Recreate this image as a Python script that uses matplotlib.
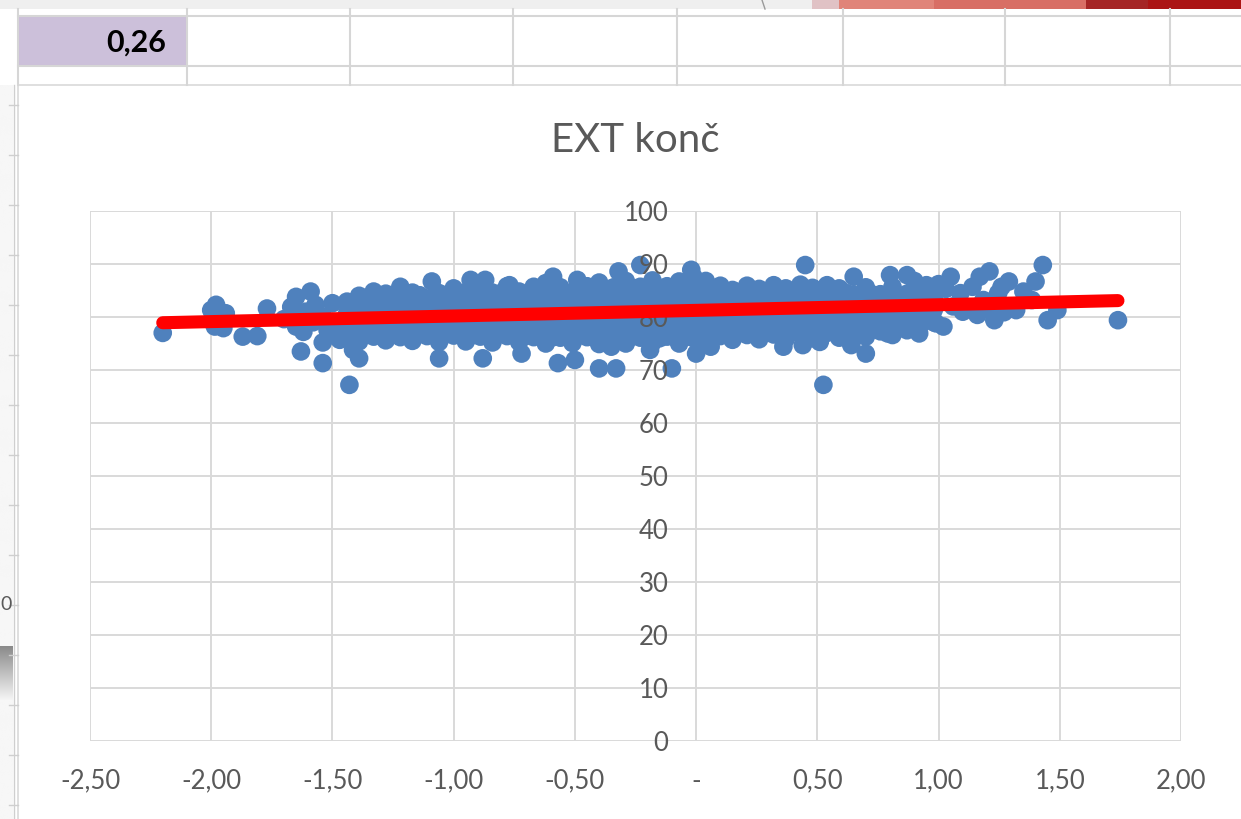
import matplotlib
matplotlib.use("Agg")
import matplotlib.pyplot as plt
from matplotlib.patches import Rectangle
from matplotlib.lines import Line2D
import numpy as np

plt.rcParams['font.family'] = ['Lato', 'DejaVu Sans']

# ---- data -------------------------------------------------------------
chart_title = "EXT konč"
cell_value = "0,26"

# x = standardized score, y = EXT konč (one line per vertical strip of points)
ext_x = [
    -1.44, -1.44, -1.44, -1.44,
    -1.39, -1.39, -1.39, -1.39, -1.39,
    -1.33, -1.33, -1.33, -1.33,
    -1.28, -1.28, -1.28, -1.28, -1.28,
    -1.22, -1.22, -1.22, -1.22,
    -1.17, -1.17, -1.17, -1.17, -1.17,
    -1.11, -1.11, -1.11, -1.11,
    -1.06, -1.06, -1.06, -1.06, -1.06,
    -1.00, -1.00, -1.00, -1.00, -1.00,
    -0.95, -0.95, -0.95, -0.95, -0.95,
    -0.89, -0.89, -0.89, -0.89, -0.89,
    -0.84, -0.84, -0.84, -0.84, -0.84,
    -0.78, -0.78, -0.78, -0.78, -0.78,
    -0.73, -0.73, -0.73, -0.73, -0.73,
    -0.67, -0.67, -0.67, -0.67, -0.67,
    -0.62, -0.62, -0.62, -0.62, -0.62, -0.62,
    -0.56, -0.56, -0.56, -0.56, -0.56,
    -0.51, -0.51, -0.51, -0.51, -0.51,
    -0.45, -0.45, -0.45, -0.45, -0.45,
    -0.40, -0.40, -0.40, -0.40, -0.40, -0.40,
    -0.34, -0.34, -0.34, -0.34, -0.34,
    -0.29, -0.29, -0.29, -0.29, -0.29, -0.29,
    -0.23, -0.23, -0.23, -0.23, -0.23,
    -0.18, -0.18, -0.18, -0.18, -0.18, -0.18,
    -0.12, -0.12, -0.12, -0.12, -0.12,
    -0.07, -0.07, -0.07, -0.07, -0.07, -0.07,
    -0.01, -0.01, -0.01, -0.01, -0.01, -0.01,
    0.04, 0.04, 0.04, 0.04, 0.04, 0.04,
    0.10, 0.10, 0.10, 0.10, 0.10,
    0.15, 0.15, 0.15, 0.15, 0.15,
    0.21, 0.21, 0.21, 0.21, 0.21,
    0.26, 0.26, 0.26, 0.26, 0.26,
    0.32, 0.32, 0.32, 0.32, 0.32,
    0.37, 0.37, 0.37, 0.37, 0.37,
    0.43, 0.43, 0.43, 0.43, 0.43,
    0.48, 0.48, 0.48, 0.48, 0.48,
    0.54, 0.54, 0.54, 0.54, 0.54,
    0.59, 0.59, 0.59, 0.59, 0.59,
    0.65, 0.65, 0.65, 0.65,
    0.70, 0.70, 0.70, 0.70, 0.70,
    0.76, 0.76, 0.76, 0.76,
    0.81, 0.81, 0.81, 0.81, 0.81,
    0.87, 0.87, 0.87, 0.87,
    0.92, 0.92, 0.92, 0.92,
    0.98, 0.98, 0.98,
    # in-between strips of the dense band
    -1.36, -1.36, -1.25, -1.25, -1.14, -1.14, -1.03, -1.03,
    -0.92, -0.92, -0.81, -0.81, -0.70, -0.70, -0.59, -0.59,
    -0.48, -0.48, -0.37, -0.37, -0.26, -0.26, -0.15, -0.15,
    -0.04, -0.04, 0.07, 0.07, 0.18, 0.18, 0.29, 0.29,
    0.40, 0.40, 0.51, 0.51, 0.62, 0.62, 0.73, 0.73, 0.84, 0.84,
    # left tail
    -2.20, -1.98, -2.00, -1.94, -1.985, -1.95, -1.87, -1.81, -1.77, -1.70,
    -1.67, -1.65, -1.59, -1.61, -1.65, -1.62, -1.63, -1.57, -1.54, -1.54,
    -1.54, -1.50, -1.50, -1.47, -1.58, -1.52,
    # lower and upper fringe of the main band
    -1.43, -1.39, -1.415, -1.386, -1.33, -1.22, -1.09, -1.06, -0.93, -0.87,
    -0.88, -0.77, -0.72, -0.59, -0.49, -0.32, -0.23, -0.02, -0.57, -0.50,
    -0.40, -0.33, -0.10, -0.19, 0.00, 0.06, -0.35,
    0.45, 0.525, 0.51, 0.36, 0.70, 0.65, 0.80, 0.87, 0.79, 0.92,
    0.44, 0.64, 0.99, 0.95, 0.90,
    # right tail
    1.43, 1.40, 1.45, 1.49, 1.74, 1.21, 1.17, 1.05, 1.29, 1.23,
    1.16, 1.02, 1.35, 1.14, 1.26, 1.09, 1.32, 1.385, 1.03, 1.06,
    1.00, 1.10, 1.185, 1.213, 1.246, 1.27,
]
ext_y = [
    76.0, 78.3, 80.6, 82.9,
    75.4, 77.5, 79.8, 82.0, 84.0,
    76.3, 78.6, 80.9, 83.2,
    75.6, 77.8, 80.1, 82.3, 84.4,
    76.2, 78.7, 81.0, 83.3,
    75.5, 77.7, 80.0, 82.4, 84.6,
    76.4, 78.8, 81.1, 83.5,
    75.3, 77.6, 79.9, 82.2, 84.5,
    76.5, 78.8, 81.2, 83.6, 85.4,
    75.4, 77.7, 80.0, 82.3, 84.7,
    76.3, 78.6, 81.0, 83.4, 85.6,
    75.2, 77.5, 79.9, 82.2, 84.6,
    76.4, 78.7, 81.1, 83.5, 85.8,
    75.3, 77.6, 80.0, 82.4, 84.8,
    76.2, 78.5, 80.9, 83.3, 85.7,
    75.0, 77.4, 79.8, 82.2, 84.6, 86.4,
    76.1, 78.5, 80.9, 83.3, 85.6,
    75.1, 77.5, 79.9, 82.3, 84.7,
    76.2, 78.6, 81.0, 83.4, 85.8,
    74.9, 77.3, 79.7, 82.1, 84.5, 86.5,
    76.0, 78.4, 80.8, 83.2, 85.6,
    75.0, 77.4, 79.8, 82.2, 84.6, 86.8,
    76.1, 78.5, 80.9, 83.3, 85.7,
    75.2, 77.6, 80.0, 82.4, 84.8, 86.9,
    76.3, 78.7, 81.1, 83.5, 85.8,
    75.0, 77.4, 79.8, 82.2, 84.6, 86.7,
    76.0, 78.4, 80.8, 83.2, 85.6, 87.5,
    75.3, 77.7, 80.1, 82.5, 84.9, 86.8,
    76.4, 78.8, 81.2, 83.6, 85.9,
    75.7, 78.0, 80.4, 82.8, 85.1,
    76.6, 79.0, 81.4, 83.8, 85.9,
    75.8, 78.1, 80.5, 82.9, 85.3,
    76.7, 79.1, 81.5, 83.9, 86.0,
    75.9, 78.2, 80.6, 83.0, 85.4,
    76.8, 79.2, 81.6, 84.0, 86.1,
    76.0, 78.3, 80.7, 83.1, 85.5,
    77.0, 79.3, 81.7, 84.1, 86.0,
    76.1, 78.4, 80.8, 83.2, 85.4,
    77.1, 79.4, 81.8, 84.2,
    76.3, 78.6, 80.9, 83.3, 85.6,
    77.3, 79.6, 81.9, 84.3,
    76.6, 78.9, 81.2, 83.5, 85.7,
    77.5, 79.8, 82.1, 84.4,
    78.1, 80.4, 82.7, 85.0,
    79.0, 81.3, 83.6,
    # in-between strips of the dense band
    77.0, 82.6, 76.9, 83.8, 77.1, 84.1, 76.8, 84.0,
    76.6, 84.2, 77.0, 84.4, 76.5, 84.3, 76.2, 84.9,
    76.6, 85.0, 76.1, 84.8, 76.4, 85.2, 76.0, 85.1,
    76.3, 85.4, 76.9, 85.0, 77.1, 84.6, 77.2, 84.7,
    77.4, 84.8, 77.6, 84.9, 77.8, 84.5, 78.0, 84.2, 78.4, 83.9,
    # left tail
    77.0, 82.3, 81.3, 80.7, 78.2, 77.9, 76.3, 76.4, 81.6, 79.6,
    81.9, 83.8, 84.8, 81.0, 78.2, 77.2, 73.5, 82.3, 80.1, 75.2,
    71.3, 82.6, 78.2, 75.7, 79.0, 77.5,
    # lower and upper fringe of the main band
    67.2, 72.2, 73.8, 82.6, 84.8, 85.7, 86.7, 72.2, 87.0, 87.0,
    72.2, 86.0, 73.1, 87.6, 87.0, 88.6, 89.8, 88.9, 71.3, 71.9,
    70.3, 70.3, 70.3, 73.8, 73.1, 74.4, 74.4,
    89.8, 67.2, 75.3, 74.4, 73.1, 87.6, 87.9, 87.9, 76.9, 76.9,
    74.7, 74.7, 78.8, 86.0, 86.8,
    # right tail
    89.8, 86.7, 79.4, 81.3, 79.4, 88.6, 87.6, 87.6, 86.7, 79.4,
    80.4, 78.2, 84.8, 85.7, 85.7, 84.5, 81.3, 83.2, 85.3, 82.0,
    86.2, 81.0, 83.2, 81.7, 84.5, 80.9,
]

# linear trend of EXT konč on the score
trend_intercept = 81.25
trend_slope = 1.06

x_ticks = [-2.5, -2.0, -1.5, -1.0, -0.5, 0.0, 0.5, 1.0, 1.5, 2.0]
x_tick_labels = ["-2,50", "-2,00", "-1,50", "-1,00", "-0,50", "-",
                 "0,50", "1,00", "1,50", "2,00"]
y_ticks = [0, 10, 20, 30, 40, 50, 60, 70, 80, 90, 100]
y_tick_labels = [str(v) for v in y_ticks]

# ---- figure and worksheet surroundings --------------------------------
W, H = 1241, 819
fig = plt.figure(figsize=(W / 100, H / 100), dpi=100)
fig.patch.set_facecolor("white")


def fx(px):
    return px / W


def fy(py):
    return 1 - py / H


def frect(x0, y0, x1, y1, **kw):
    fig.patches.append(Rectangle((fx(x0), fy(y1)), fx(x1) - fx(x0), fy(y0) - fy(y1),
                                 transform=fig.transFigure, **kw))


def fline(xs, ys, **kw):
    fig.lines.append(Line2D([fx(v) for v in xs], [fy(v) for v in ys],
                            transform=fig.transFigure, **kw))


def gradient(x0, y0, x1, y1, c0, c1, horizontal=True, z=0):
    gax = fig.add_axes([fx(x0), fy(y1), fx(x1) - fx(x0), fy(y0) - fy(y1)])
    t = np.linspace(0, 1, 64)
    c0 = np.array(matplotlib.colors.to_rgb(c0))
    c1 = np.array(matplotlib.colors.to_rgb(c1))
    img = c0[None, :] * (1 - t[:, None]) + c1[None, :] * t[:, None]
    img = img[None, :, :] if horizontal else img[:, None, :]
    gax.imshow(img, aspect="auto", interpolation="bilinear")
    gax.set_axis_off()
    gax.set_zorder(z)


# strip along the top edge
frect(0, 0, W, 9, color="#efefef", lw=0)
gradient(52, 0, 120, 9, "#8c8c8c", "#efefef")
frect(812, 0, 839, 9, color="#e0c2c5", lw=0)
frect(839, 0, 934, 9, color="#e08479", lw=0)
frect(934, 0, 1086, 9, color="#d86e65", lw=0)
frect(1086, 0, 1148, 9, color="#a52525", lw=0)
frect(1148, 0, W, 9, color="#ab1515", lw=0)
fline([762, 765], [0, 9], color="#9a9a9a", lw=1.0)

# worksheet cells
frect(18, 16, 187, 66, color="#ccc0da", lw=0)
cell_grid = "#d6d6d6"
for gy in (16, 66):
    fline([18, W], [gy, gy], color=cell_grid, lw=1.5)
for gx in (18, 187, 350, 513, 677, 843, 1005, 1170):
    fline([gx, gx], [9, 85], color=cell_grid, lw=1.5)
fig.text(fx(166), fy(43), cell_value, ha="right", va="center",
         fontsize=22, fontweight="bold", color="black")

# panel on the left edge
gradient(0, 85, 13, 819, "#f7f7f7", "#f7f7f7", horizontal=False)
gradient(0, 646, 13, 700, "#8a8a8a", "#f5f5f5", horizontal=False, z=1)
fline([13.5, 13.5], [85, 819], color="#cfcfcf", lw=1.0)
for ty in range(105, 819, 50):
    fline([9, 18], [ty, ty], color="#cfcfcf", lw=1.0)
fig.text(fx(0.5), fy(605), "0", ha="left", va="center", fontsize=14, color="#595959")

# chart area
frect(18, 85, W + 5, H + 5, facecolor="white", edgecolor="#d9d9d9", lw=1.2)

fig.text(fx(635), fy(141), chart_title, ha="center", va="center",
         fontsize=29, color="#595959")

# ---- plot area --------------------------------------------------------
ax = fig.add_axes([fx(90), fy(741), (1181 - 90) / W, (741 - 211) / H])
ax.set_zorder(5)
ax.patch.set_alpha(0)
ax.set_xlim(x_ticks[0], x_ticks[-1])
ax.set_ylim(y_ticks[0], y_ticks[-1])

grid_col = "#d9d9d9"
for t in x_ticks:
    ax.axvline(t, color=grid_col, lw=1.4, zorder=0)
for t in y_ticks:
    ax.axhline(t, color=grid_col, lw=1.4, zorder=0)

for s in ax.spines.values():
    s.set_visible(False)
ax.spines["left"].set_position(("data", 0))

ax.set_xticks(x_ticks, x_tick_labels)
ax.set_yticks(y_ticks, y_tick_labels)
ax.tick_params(axis="both", length=0, labelsize=18.5, labelcolor="#595959")
ax.tick_params(axis="y", pad=20)
ax.tick_params(axis="x", pad=20)

ax.scatter(ext_x, ext_y, s=180, color="#4f81bd", edgecolors="none",
           zorder=1, clip_on=False)

tx = np.array([min(ext_x), max(ext_x)])
ax.plot(tx, trend_intercept + trend_slope * tx, color="#ff0000", lw=9.4,
        solid_capstyle="round", zorder=2)

fig.savefig("out.png", dpi=100)
